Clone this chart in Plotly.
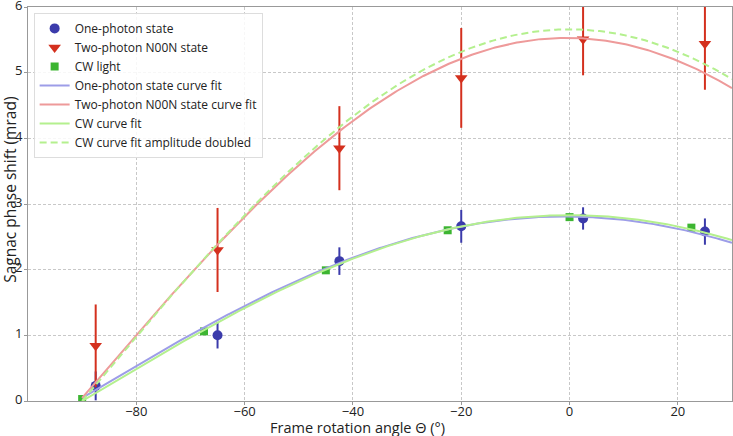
import numpy as np
import plotly.graph_objects as go

# Measured data
theta_photon = [-87.5, -65.0, -42.5, -20.0, 2.5, 25.0]
one_photon = [0.23, 1.00, 2.13, 2.66, 2.78, 2.58]
one_photon_err = [0.22, 0.20, 0.21, 0.25, 0.17, 0.20]
two_photon = [0.84, 2.30, 3.85, 4.92, 5.51, 5.44]
two_photon_err = [0.63, 0.64, 0.64, 0.76, 0.55, 0.70]

theta_cw = [-90.0, -67.5, -45.0, -22.5, 0.0, 22.5]
cw = [0.03, 1.06, 1.99, 2.60, 2.80, 2.64]

# Cosine fit parameters: amplitude (mrad), phase offset (deg)
fit_one = (2.81, 1.0)
fit_two = (5.53, 0.5)
fit_cw = (2.83, 0.0)
fit_range = (-90.0, 30.0)

x_ticks = [-80, -60, -40, -20, 0, 20]
x_ticktext = ["\u221280", "\u221260", "\u221240", "\u221220", "0", "20"]
y_ticks = [0, 1, 2, 3, 4, 5, 6]

theta_fit = np.linspace(fit_range[0], fit_range[1], 300)


def cos_fit(params):
    amp, off = params
    return amp * np.cos(np.radians(theta_fit + off))


FONT = "Open Sans"

fig = go.Figure()
fig.add_trace(go.Scatter(
    x=theta_photon, y=one_photon, mode="markers", name="One-photon state",
    marker=dict(symbol="circle", size=10, color="#3b3bab"),
    error_y=dict(type="data", array=one_photon_err, color="#3b3bab", thickness=2, width=0),
))
fig.add_trace(go.Scatter(
    x=theta_photon, y=two_photon, mode="markers", name="Two-photon N00N state",
    marker=dict(symbol="triangle-down", size=11, color="#d4301e"),
    error_y=dict(type="data", array=two_photon_err, color="#d4301e", thickness=2, width=0),
))
fig.add_trace(go.Scatter(
    x=theta_cw, y=cw, mode="markers", name="CW light",
    marker=dict(symbol="square", size=8, color="#3cb531"),
))
fig.add_trace(go.Scatter(
    x=theta_fit, y=cos_fit(fit_one), mode="lines", name="One-photon state curve fit",
    line=dict(color="#9d9de8", width=2),
))
fig.add_trace(go.Scatter(
    x=theta_fit, y=cos_fit(fit_two), mode="lines", name="Two-photon N00N state curve fit",
    line=dict(color="#ee9a9a", width=2),
))
fig.add_trace(go.Scatter(
    x=theta_fit, y=cos_fit(fit_cw), mode="lines", name="CW curve fit",
    line=dict(color="#b4f08e", width=2),
))
amp_cw, off_cw = fit_cw
fig.add_trace(go.Scatter(
    x=theta_fit, y=cos_fit((2 * amp_cw, off_cw)), mode="lines",
    name="CW curve fit amplitude doubled",
    line=dict(color="#b4f08e", width=2, dash="7px,4px"),
))

axis_common = dict(
    showline=True, linecolor="#999999", linewidth=1, mirror=True,
    showgrid=True, gridcolor="#c8c8c8", griddash="3px,2px", gridwidth=1,
    ticks="outside", ticklen=3, tickcolor="#999999",
    tickfont=dict(family=FONT, size=13, color="#222222"),
    zeroline=False, automargin=False, ticklabeloverflow="allow",
)

fig.update_layout(
    width=733, height=436,
    margin=dict(l=28, r=1, t=7, b=35),
    paper_bgcolor="white", plot_bgcolor="white",
    font=dict(family=FONT, color="#222222"),
    xaxis=dict(range=[-100, 30], tickvals=x_ticks, ticktext=x_ticktext,
               ticklabelstandoff=-5, **axis_common),
    yaxis=dict(range=[0, 6.0001], tickvals=y_ticks,
               ticklabelstandoff=-1, ticklabelshift=-2, **axis_common),
    legend=dict(x=0.008, y=0.985, xanchor="left", yanchor="top",
                bgcolor="rgba(255,255,255,0.85)", bordercolor="#dddddd", borderwidth=1,
                font=dict(family=FONT, size=12, color="#222222"),
                tracegroupgap=0, itemwidth=30),
    showlegend=True,
    annotations=[
        dict(text="Frame rotation angle \u0398 (\u00b0)", xref="paper", yref="paper",
             x=0.468, y=-0.066, xanchor="center", yanchor="middle", showarrow=False,
             font=dict(family=FONT, size=14.5, color="#222222")),
        dict(text="Sagnac phase shift (mrad)", xref="paper", yref="paper",
             x=-0.0255, y=0.536, xanchor="center", yanchor="middle", showarrow=False,
             textangle=-90, font=dict(family=FONT, size=15.5, color="#222222")),
    ],
)

fig.write_html("out.html", config={"displayModeBar": False},
               post_script="document.body.style.margin='0';")
